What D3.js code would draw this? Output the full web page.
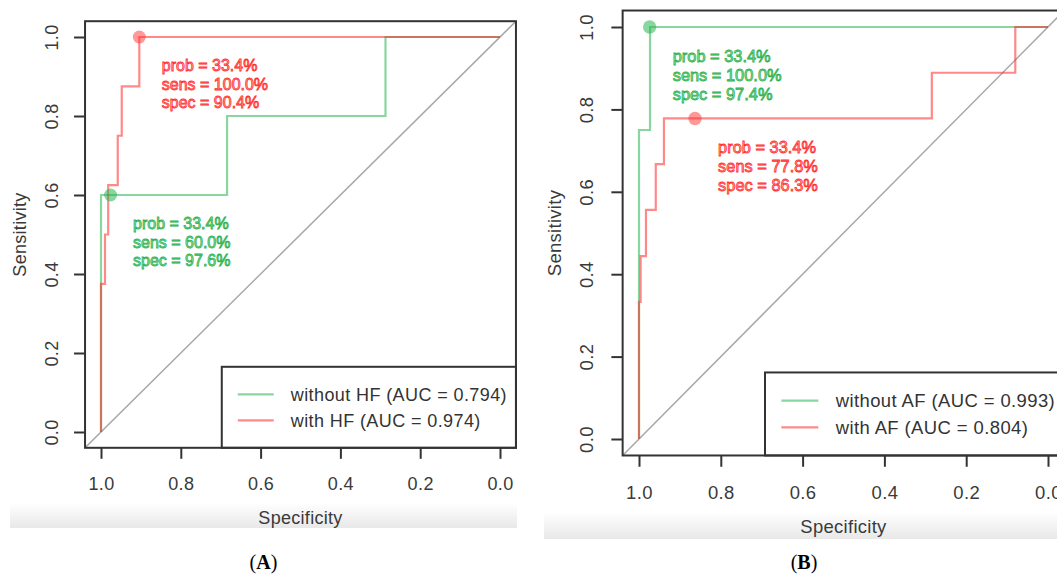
<!DOCTYPE html>
<html><head><meta charset="utf-8">
<script src="https://cdn.jsdelivr.net/npm/d3@7"></script>
<style>body{margin:0;background:#fff}svg{display:block}</style>
</head><body>
<svg id="c" width="1057" height="575"></svg>
<script>
// ---------- data ----------
const specTicks = [1.0, 0.8, 0.6, 0.4, 0.2, 0.0];
const sensTicks = [0.0, 0.2, 0.4, 0.6, 0.8, 1.0];

// Panel A
const legendA = ["without HF (AUC = 0.794)", "with HF (AUC = 0.974)"];
const withoutHFSpec = [1, 1, 0.684, 0.684, 0.287, 0.287, 0];
const withoutHFSens = [0, 0.6, 0.6, 0.8, 0.8, 1.0, 1.0];
const withHFSpec = [1, 1, 0.99, 0.99, 0.982, 0.982, 0.958, 0.958, 0.948, 0.948, 0.904, 0.904, 0];
const withHFSens = [0, 0.375, 0.375, 0.5, 0.5, 0.625, 0.625, 0.75, 0.75, 0.875, 0.875, 1.0, 1.0];
const thrSpecA = [0.976, 0.904];
const thrSensA = [0.6, 1.0];
const thrTextA = [["prob = 33.4%", "sens = 60.0%", "spec = 97.6%"],
                  ["prob = 33.4%", "sens = 100.0%", "spec = 90.4%"]];

// Panel B
const legendB = ["without AF (AUC = 0.993)", "with AF (AUC = 0.804)"];
const withoutAFSpec = [1, 1, 0.973, 0.973, 0];
const withoutAFSens = [0, 0.75, 0.75, 1.0, 1.0];
const withAFSpec = [1, 1, 0.996, 0.996, 0.983, 0.983, 0.959, 0.959, 0.939, 0.939, 0.284, 0.284, 0.08, 0.08, 0];
const withAFSens = [0, 0.333, 0.333, 0.444, 0.444, 0.556, 0.556, 0.667, 0.667, 0.778, 0.778, 0.889, 0.889, 1.0, 1.0];
const thrSpecB = [0.974, 0.863];
const thrSensB = [1.0, 0.778];
const thrTextB = [["prob = 33.4%", "sens = 100.0%", "spec = 97.4%"],
                  ["prob = 33.4%", "sens = 77.8%", "spec = 86.3%"]];

const captions = ["A", "B"];

// ---------- styles ----------
const GREEN = "rgba(40,180,80,0.55)";
const RED = "rgba(255,40,40,0.55)";
const GREEN_DOT = "rgba(40,180,80,0.55)";
const RED_DOT = "rgba(255,50,50,0.5)";
const GREEN_TXT = {fill: "#a8e6b5", stroke: "#2db24e"};
const RED_TXT = {fill: "#ffb8b8", stroke: "#ff3030"};
const FONT = "'Liberation Sans', Arial, sans-serif";
const AXC = "#333";

const svg = d3.select("#c");
const defs = svg.append("defs");
const grad = defs.append("linearGradient").attr("id", "band")
  .attr("x1", 0).attr("y1", 0).attr("x2", 0).attr("y2", 1);
grad.append("stop").attr("offset", "0%").attr("stop-color", "#ffffff");
grad.append("stop").attr("offset", "100%").attr("stop-color", "#e8e8e8");

function panel(cfg) {
  const k = cfg.k;
  const x = d3.scaleLinear().domain([1, 0]).range(cfg.xr);
  const y = d3.scaleLinear().domain([0, 1]).range(cfg.yr);
  const xL = x(1.04), xR = x(-0.04), yT = y(1.04), yB = y(-0.04);
  const g = svg.append("g");

  g.append("rect").attr("x", cfg.band[0]).attr("y", cfg.band[1])
    .attr("width", cfg.band[2]).attr("height", cfg.band[3]).attr("fill", "url(#band)");

  const cid = "clip" + cfg.id;
  defs.append("clipPath").attr("id", cid).append("rect")
    .attr("x", xL).attr("y", yT).attr("width", xR - xL).attr("height", yB - yT);
  const inner = g.append("g").attr("clip-path", `url(#${cid})`);

  // diagonal reference
  inner.append("line")
    .attr("x1", x(1.04)).attr("y1", y(-0.04)).attr("x2", x(-0.04)).attr("y2", y(1.04))
    .attr("stroke", "#a8a8a8").attr("stroke-width", 1.5);

  const line = d3.line().x(d => x(d[0])).y(d => y(d[1]));
  cfg.series.forEach(s => {
    inner.append("path").datum(d3.zip(s.spec, s.sens)).attr("d", line)
      .attr("fill", "none").attr("stroke", s.color).attr("stroke-width", 2.2);
  });

  // threshold points
  cfg.thr.forEach(t => {
    g.append("circle").attr("cx", x(t.spec)).attr("cy", y(t.sens)).attr("r", 6.5 * k)
      .attr("fill", t.dot);
  });
  cfg.thr.forEach(t => {
    t.text.forEach((s, i) => {
      g.append("text").attr("x", x(t.spec) + 22.5 * k).attr("y", y(t.sens) + (28.3 + i * 18.6) * k)
        .attr("dy", "0.35em").text(s)
        .attr("font-family", FONT).attr("font-size", 16 * k)
        .attr("fill", t.txt.fill).attr("stroke", t.txt.stroke).attr("stroke-width", 0.8);
    });
  });

  // legend (bottom right)
  const lg = g.append("g");
  const lbox = lg.append("rect");
  const texts = cfg.legend.map((s, i) => lg.append("text").text(s)
    .attr("font-family", FONT).attr("font-size", 18 * k).attr("letter-spacing", (0.4 * k) + "px")
    .attr("fill", AXC));
  const tw = d3.max(texts, t => t.node().getComputedTextLength());
  const boxW = 78 * k + tw, boxH = 81 * k;
  const bx = xR - boxW, by = yB - boxH;
  lbox.attr("x", bx).attr("y", by).attr("width", boxW).attr("height", boxH)
    .attr("fill", "#fff").attr("stroke", AXC).attr("stroke-width", 2);
  texts.forEach((t, i) => {
    const ry = by + (27.5 + i * 26) * k;
    t.attr("x", bx + 69 * k).attr("y", ry).attr("dy", "0.35em");
    lg.append("line").attr("x1", bx + 16 * k).attr("x2", bx + 52 * k)
      .attr("y1", ry).attr("y2", ry)
      .attr("stroke", cfg.series[i].color).attr("stroke-width", 2.2);
  });

  // box
  g.append("rect").attr("x", xL).attr("y", yT).attr("width", xR - xL).attr("height", yB - yT)
    .attr("fill", "none").attr("stroke", AXC).attr("stroke-width", 2);

  // axes
  const xa = g.append("g").attr("transform", `translate(0,${yB})`)
    .call(d3.axisBottom(x).tickValues(specTicks).tickFormat(d3.format(".1f"))
      .tickSize(11 * k).tickPadding(cfg.xPad));
  const ya = g.append("g").attr("transform", `translate(${xL},0)`)
    .call(d3.axisLeft(y).tickValues(sensTicks).tickFormat(d3.format(".1f")).tickSize(11 * k));
  [xa, ya].forEach(a => {
    a.select(".domain").remove();
    a.selectAll("line").attr("stroke", AXC).attr("stroke-width", 2);
    a.selectAll("text").attr("font-family", FONT).attr("font-size", 18 * k)
      .attr("letter-spacing", "0.4px").attr("fill", "#3a3a3a");
  });
  ya.selectAll("text").attr("x", 0).attr("dy", "0.35em").attr("text-anchor", "middle")
    .attr("transform", `translate(${cfg.yLabX - xL},0) rotate(-90)`);

  // titles
  g.append("text").attr("x", (xL + xR) / 2).attr("y", cfg.xTitleY).attr("dy", "0.35em")
    .attr("text-anchor", "middle").attr("font-family", FONT).attr("font-size", 18 * k)
    .attr("letter-spacing", "0.3px").attr("fill", "#3a3a3a").text("Specificity");
  g.append("text").attr("transform", `translate(${cfg.yTitleX},${(yT + yB) / 2}) rotate(-90)`)
    .attr("dy", "0.35em").attr("text-anchor", "middle").attr("font-family", FONT)
    .attr("font-size", 18 * k).attr("letter-spacing", "0.3px").attr("fill", "#3a3a3a").text("Sensitivity");

  // caption
  const cap = g.append("text").attr("x", cfg.capX).attr("y", 569).attr("text-anchor", "middle")
    .attr("font-family", "'Liberation Serif', 'Times New Roman', serif").attr("font-size", 20)
    .attr("fill", "#000");
  cap.append("tspan").text("(");
  cap.append("tspan").attr("font-weight", "bold").text(cfg.caption);
  cap.append("tspan").text(")");
}

panel({
  id: "A", k: 1, xr: [101, 500], yr: [432, 37], xPad: 18, xTitleY: 518,
  yLabX: 52, yTitleX: 20, capX: 263.5, caption: captions[0],
  band: [10, 503, 507, 25],
  legend: legendA,
  series: [
    {spec: withoutHFSpec, sens: withoutHFSens, color: GREEN},
    {spec: withHFSpec, sens: withHFSens, color: RED}
  ],
  thr: [
    {spec: thrSpecA[0], sens: thrSensA[0], text: thrTextA[0], dot: GREEN_DOT, txt: GREEN_TXT},
    {spec: thrSpecA[1], sens: thrSensA[1], text: thrTextA[1], dot: RED_DOT, txt: RED_TXT}
  ]
});

panel({
  id: "B", k: 1.025, xr: [639, 1048], yr: [439, 27], xPad: 19, xTitleY: 527,
  yLabX: 587, yTitleX: 555, capX: 804, caption: captions[1],
  band: [544, 512, 513, 27],
  legend: legendB,
  series: [
    {spec: withoutAFSpec, sens: withoutAFSens, color: GREEN},
    {spec: withAFSpec, sens: withAFSens, color: RED}
  ],
  thr: [
    {spec: thrSpecB[0], sens: thrSensB[0], text: thrTextB[0], dot: GREEN_DOT, txt: GREEN_TXT},
    {spec: thrSpecB[1], sens: thrSensB[1], text: thrTextB[1], dot: RED_DOT, txt: RED_TXT}
  ]
});
</script>
</body></html>
